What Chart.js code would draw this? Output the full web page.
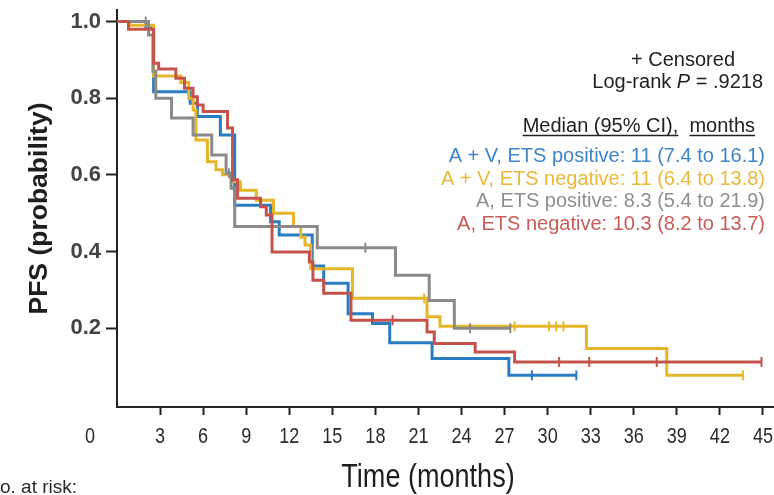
<!DOCTYPE html>
<html>
<head>
<meta charset="utf-8">
<script src="https://cdn.jsdelivr.net/npm/chart.js@4.4.1/dist/chart.umd.min.js"></script>
<style>
html,body{margin:0;padding:0;background:#ffffff;}
#wrap{width:774px;height:495px;position:relative;overflow:hidden;}
canvas{display:block;}
</style>
</head>
<body>
<div id="wrap"><canvas id="c" width="774" height="495"></canvas></div>
<script>
// ---------- data ----------
const xTickValues = [0, 3, 6, 9, 12, 15, 18, 21, 24, 27, 30, 33, 36, 39, 42, 45];
const yTickValues = [0.2, 0.4, 0.6, 0.8, 1.0];

const seriesNames = ['A + V, ETS positive', 'A + V, ETS negative', 'A, ETS positive', 'A, ETS negative'];
const medianLabels = ['11 (7.4 to 16.1)', '11 (6.4 to 13.8)', '8.3 (5.4 to 21.9)', '10.3 (8.2 to 13.7)'];

// A + V, ETS positive
const avPosTimes  = [0, 2.0, 2.55, 5.1, 5.6, 7.2, 8.2, 10.7, 11.3, 13.6, 14.4, 16.1, 17.8, 19.0, 21.95, 27.3, 32.0];
const avPosSurv   = [1, 0.985, 0.817, 0.787, 0.752, 0.704, 0.521, 0.478, 0.443, 0.362, 0.317, 0.238, 0.212, 0.162, 0.121, 0.077, 0.077];
const avPosCensor = [28.9, 32.0];

// A + V, ETS negative
const avNegTimes  = [0, 0.9, 2.55, 4.45, 5.0, 5.3, 5.5, 6.3, 6.9, 7.35, 8.05, 8.6, 9.7, 10.9, 12.3, 12.8, 13.1, 13.5, 16.4, 21.6, 22.5, 32.7, 38.3, 43.6];
const avNegSurv   = [1, 0.99, 0.858, 0.841, 0.80, 0.769, 0.691, 0.634, 0.613, 0.600, 0.582, 0.560, 0.534, 0.500, 0.465, 0.438, 0.417, 0.355, 0.278, 0.230, 0.205, 0.147, 0.077, 0.077];
const avNegCensor = [21.4, 27.7, 30.1, 30.6, 31.1, 43.6];

// A, ETS positive
const aPosTimes  = [0, 2.2, 2.5, 2.7, 3.8, 5.3, 6.6, 7.6, 7.95, 8.2, 13.95, 19.4, 21.75, 23.5, 27.4];
const aPosSurv   = [1, 0.965, 0.87, 0.80, 0.748, 0.704, 0.652, 0.604, 0.565, 0.465, 0.410, 0.338, 0.272, 0.200, 0.200];
const aPosCensor = [2.0, 7.8, 17.3, 24.6, 27.4];

// A, ETS negative
const aNegTimes  = [0, 0.8, 2.55, 2.9, 4.1, 4.7, 5.3, 5.6, 6.0, 7.7, 8.05, 8.4, 10.0, 10.4, 10.8, 13.4, 13.65, 14.4, 16.3, 21.6, 22.1, 24.95, 27.7, 44.9];
const aNegSurv   = [1, 0.98, 0.891, 0.876, 0.852, 0.826, 0.804, 0.782, 0.765, 0.722, 0.587, 0.539, 0.517, 0.495, 0.399, 0.373, 0.325, 0.291, 0.221, 0.190, 0.160, 0.138, 0.112, 0.112];
const aNegCensor = [19.2, 30.8, 32.9, 37.6, 44.9];

// ---------- styles ----------
const lineColors = ['#2a7cc2', '#e6b62a', '#8a8a8a', '#c4534c'];
const textColors = ['#3d86c8', '#e8b93a', '#8f8f8f', '#c85d57'];

function stepPoints(times, surv) {
  return times.map((t, i) => ({ x: t, y: surv[i] }));
}
function survAt(times, surv, t) {
  let v = surv[0];
  for (let i = 0; i < times.length; i++) { if (times[i] <= t) v = surv[i]; }
  return v;
}
function censorPoints(times, surv, cens) {
  return cens.map(t => ({ x: t, y: survAt(times, surv, t) }));
}

const groups = [
  [avPosTimes, avPosSurv, avPosCensor],
  [avNegTimes, avNegSurv, avNegCensor],
  [aPosTimes, aPosSurv, aPosCensor],
  [aNegTimes, aNegSurv, aNegCensor]
];

const datasets = [];
groups.forEach((g, i) => {
  datasets.push({
    type: 'line',
    label: seriesNames[i],
    data: stepPoints(g[0], g[1]),
    stepped: true,
    borderColor: lineColors[i],
    borderWidth: 3,
    pointRadius: 0,
    fill: false,
    clip: false,
    borderCapStyle: 'butt',
    borderJoinStyle: 'miter',
    order: 10 - i
  });
});
groups.forEach((g, i) => {
  datasets.push({
    type: 'scatter',
    label: seriesNames[i] + ' censored',
    data: censorPoints(g[0], g[1], g[2]),
    showLine: false,
    clip: false,
    pointStyle: 'line',
    rotation: 90,
    pointRadius: 5,
    pointBorderWidth: 2,
    borderColor: lineColors[i],
    backgroundColor: lineColors[i],
    order: 5 - i
  });
});

const sansFont = "'Liberation Sans', Arial, sans-serif";
const NARROW = 0.82; // Arial Narrow ≈ Arial compressed horizontally

function narrowText(ctx, text, x, y, size, align, squeeze) {
  ctx.save();
  ctx.font = size + "px " + sansFont;
  ctx.textAlign = align || 'center';
  ctx.textBaseline = 'alphabetic';
  ctx.translate(x, y);
  ctx.scale(squeeze || NARROW, 1);
  ctx.fillText(text, 0, 0);
  ctx.restore();
}

const textPlugin = {
  id: 'annotText',
  afterDraw(chart) {
    const ctx = chart.ctx;
    const xs = chart.scales.x;
    ctx.save();
    // x tick labels (condensed face), positioned through the x scale
    ctx.fillStyle = '#2a2a2a';
    xTickValues.forEach(v => {
      const px = xs.getPixelForValue(v) - (v === 0 ? 27 : 0);
      narrowText(ctx, String(v), px, 443, 22, 'center');
    });

    // x axis title
    ctx.fillStyle = '#1e1e1e';
    narrowText(ctx, 'Time (months)', 428, 487, 33, 'center');

    // at-risk caption (clipped at the left edge)
    ctx.fillStyle = '#2a2a2a';
    narrowText(ctx, 'o. at risk:', 0, 493, 19, 'left', 1);

    // legend block
    ctx.font = "20px " + sansFont;
    ctx.fillStyle = '#222';
    ctx.textAlign = 'right';
    ctx.textBaseline = 'alphabetic';
    ctx.fillText('+ Censored', 735, 66);

    // Log-rank P = .9218 (P italic)
    const partA = 'Log-rank ';
    const partP = 'P';
    const partB = ' = .9218';
    ctx.textAlign = 'left';
    const wB = ctx.measureText(partB).width;
    const wA = ctx.measureText(partA).width;
    ctx.font = "italic 20px " + sansFont;
    const wP = ctx.measureText(partP).width;
    const x0 = 763 - wA - wP - wB;
    ctx.font = "20px " + sansFont;
    ctx.fillText(partA, x0, 88);
    ctx.font = "italic 20px " + sansFont;
    ctx.fillText(partP, x0 + wA, 88);
    ctx.font = "20px " + sansFont;
    ctx.fillText(partB, x0 + wA + wP, 88);

    // header with underlines
    const h1 = 'Median (95% CI),';
    const h2 = 'months';
    const gap = ctx.measureText('  ').width;
    const w1 = ctx.measureText(h1).width;
    const w2 = ctx.measureText(h2).width;
    const hx = 755 - w1 - gap - w2;
    ctx.fillText(h1, hx, 132);
    ctx.fillText(h2, hx + w1 + gap, 132);
    ctx.strokeStyle = '#222';
    ctx.lineWidth = 1.3;
    ctx.beginPath();
    ctx.moveTo(hx, 135.5); ctx.lineTo(hx + w1, 135.5);
    ctx.moveTo(hx + w1 + gap, 135.5); ctx.lineTo(hx + w1 + gap + w2, 135.5);
    ctx.stroke();

    // entries
    ctx.textAlign = 'right';
    const baselines = [162, 184.5, 207, 229.5];
    seriesNames.forEach((n, i) => {
      ctx.fillStyle = textColors[i];
      ctx.fillText(n + ': ' + medianLabels[i], 765, baselines[i]);
    });
    ctx.restore();
  }
};

new Chart(document.getElementById('c'), {
  data: { datasets },
  plugins: [textPlugin],
  options: {
    responsive: false,
    devicePixelRatio: 1,
    animation: false,
    layout: { autoPadding: false, padding: { top: 10, right: 0, bottom: 0, left: 0 } },
    plugins: { legend: { display: false }, tooltip: { enabled: false } },
    scales: {
      x: {
        type: 'linear',
        position: 'bottom',
        min: 0,
        max: 45.77,
        afterBuildTicks: s => { s.ticks = xTickValues.map(v => ({ value: v })); },
        afterFit: s => { s.height = 88; s.paddingLeft = 0; s.paddingRight = 0; },
        border: { display: true, color: '#222', width: 2 },
        grid: {
          drawOnChartArea: false,
          drawTicks: true,
          tickLength: 8,
          tickWidth: 2,
          tickColor: c => (c.tick && c.tick.value === 0) ? 'rgba(0,0,0,0)' : '#222'
        },
        ticks: { display: false, autoSkip: false, maxRotation: 0 }
      },
      y: {
        type: 'linear',
        min: -0.0055,
        max: 1.03,
        afterBuildTicks: s => { s.ticks = yTickValues.map(v => ({ value: v })); },
        afterFit: s => { s.width = 117; s.paddingTop = 0; s.paddingBottom = 0; },
        border: { display: true, color: '#222', width: 2 },
        grid: {
          drawOnChartArea: false,
          drawTicks: true,
          tickLength: 11,
          tickWidth: 2,
          tickColor: '#222'
        },
        ticks: {
          padding: 5,
          color: '#444',
          font: { family: sansFont, size: 22, weight: 'bold' },
          callback: v => Number(v).toFixed(1)
        },
        title: {
          display: true,
          text: 'PFS (probability)',
          color: '#1e1e1e',
          font: { family: sansFont, size: 26.5, weight: 'bold' },
          padding: { top: 24, bottom: 0 }
        }
      }
    }
  }
});
</script>
</body>
</html>
